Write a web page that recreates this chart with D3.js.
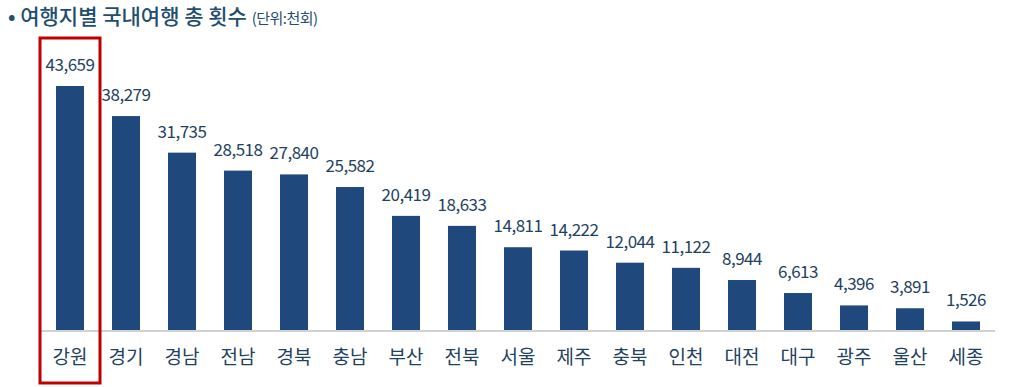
<!DOCTYPE html>
<html>
<head>
<meta charset="utf-8">
<script src="https://cdn.jsdelivr.net/npm/d3@7"></script>
<style>
  body { margin: 0; background: #fff; }
  svg { display: block; font-family: "Noto Sans CJK KR", "Noto Sans", sans-serif; }
</style>
</head>
<body>
<div id="chart"></div>
<script>
// 여행지별 국내여행 총 횟수 (단위: 천회)
const regions = ["강원", "경기", "경남", "전남", "경북", "충남", "부산", "전북", "서울", "제주", "충북", "인천", "대전", "대구", "광주", "울산", "세종"];
const trips = [43659, 38279, 31735, 28518, 27840, 25582, 20419, 18633, 14811, 14222, 12044, 11122, 8944, 6613, 4396, 3891, 1526];
const highlight = "강원";

const width = 1018, height = 387;
const baseY = 330;

const svg = d3.select("#chart").append("svg")
    .attr("width", width)
    .attr("height", height);

// title
const title = svg.append("text")
    .attr("x", 8)
    .attr("y", 24)
    .attr("fill", "#1f4e6e");
title.append("tspan")
    .attr("font-size", 21)
    .attr("font-weight", 500)
    .text("• 여행지별 국내여행 총 횟수 ");
title.append("tspan")
    .attr("font-size", 15)
    .attr("letter-spacing", -0.5)
    .text("(단위:천회)");

const x = d3.scaleBand()
    .domain(regions)
    .range([42, 994])
    .paddingInner(0.5)
    .paddingOuter(0.25);

const y = d3.scaleLinear()
    .domain([0, 43659])
    .range([baseY, 86]);

const data = regions.map((r, i) => ({ region: r, value: trips[i] }));

svg.append("g")
    .selectAll("rect")
    .data(data)
    .join("rect")
    .attr("x", d => x(d.region))
    .attr("y", d => y(d.value))
    .attr("width", x.bandwidth())
    .attr("height", d => baseY - y(d.value))
    .attr("fill", "#1f497d");

// baseline
svg.append("line")
    .attr("x1", 40).attr("x2", 995)
    .attr("y1", baseY + 1).attr("y2", baseY + 1)
    .attr("stroke", "#d0d0d0")
    .attr("stroke-width", 2);

// value labels
svg.append("g")
    .selectAll("text")
    .data(data)
    .join("text")
    .attr("x", d => x(d.region) + x.bandwidth() / 2)
    .attr("y", d => y(d.value) - 15)
    .attr("text-anchor", "middle")
    .attr("font-size", 17)
    .attr("letter-spacing", -0.5)
    .attr("fill", "#1f4261")
    .text(d => d3.format(",")(d.value));

// category labels
svg.append("g")
    .selectAll("text")
    .data(data)
    .join("text")
    .attr("x", d => x(d.region) + x.bandwidth() / 2)
    .attr("y", 364)
    .attr("text-anchor", "middle")
    .attr("font-size", 19)
    .attr("fill", "#1f4261")
    .text(d => d.region);

// highlight box
const hx = x(highlight);
svg.append("rect")
    .attr("x", hx - 16)
    .attr("y", 38)
    .attr("width", x.bandwidth() + 32)
    .attr("height", 345)
    .attr("fill", "none")
    .attr("stroke", "#c00000")
    .attr("stroke-width", 3);
</script>
</body>
</html>
